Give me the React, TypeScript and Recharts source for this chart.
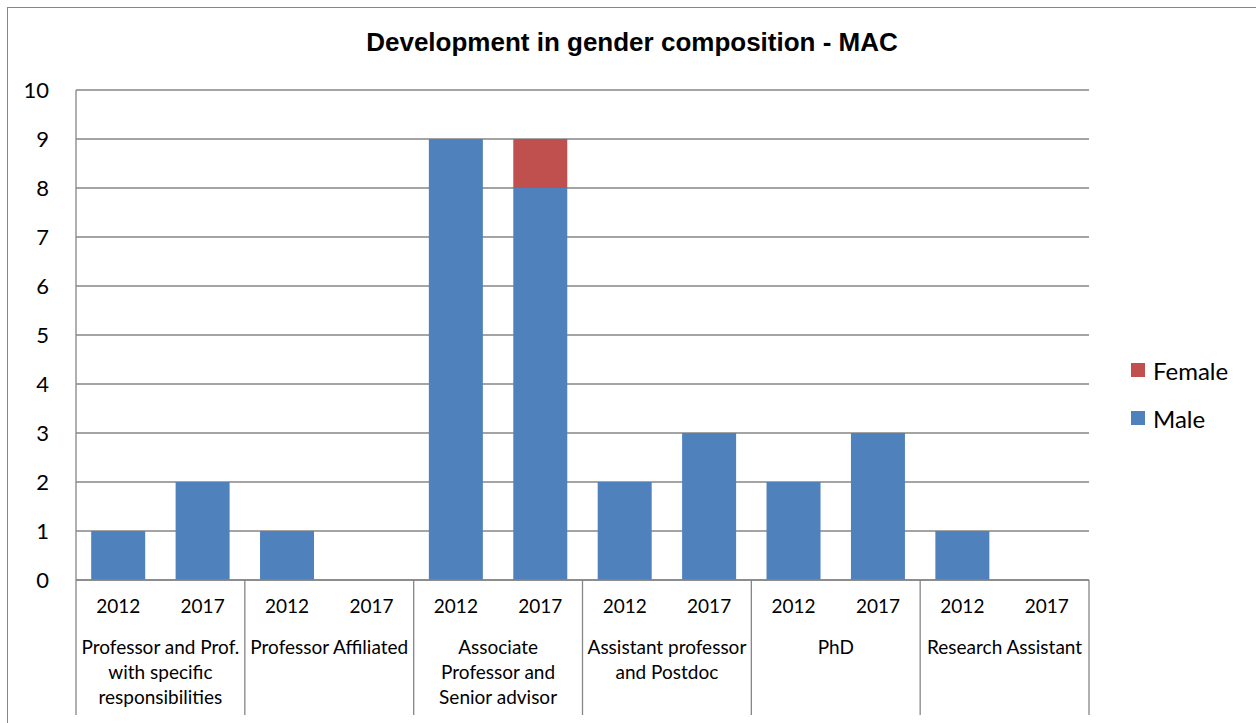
import React from 'react'
import { BarChart, Bar, XAxis, YAxis, CartesianGrid, Legend } from 'recharts'

const years = ['2012', '2017', '2012', '2017', '2012', '2017', '2012', '2017', '2012', '2017', '2012', '2017']
const groups = [
  ['Professor and Prof.', 'with specific', 'responsibilities'],
  ['Professor Affiliated'],
  ['Associate', 'Professor and', 'Senior advisor'],
  ['Assistant professor', 'and Postdoc'],
  ['PhD'],
  ['Research Assistant'],
]
const male = [1, 2, 1, 0, 9, 8, 2, 3, 2, 3, 1, 0]
const female = [0, 0, 0, 0, 0, 1, 0, 0, 0, 0, 0, 0]
const yTicks = [0, 1, 2, 3, 4, 5, 6, 7, 8, 9, 10]

const data = years.map((year, i) => ({ id: `c${i}`, year, male: male[i], female: female[i] }))

const FONT = 'Lato, "Noto Sans", sans-serif'
const GRID = '#868686'
const BLUE = '#4F81BD'
const RED = '#C0504D'

const legendItems = [
  { label: 'Female', color: RED },
  { label: 'Male', color: BLUE },
]

const CategoryTick = (props: any) => {
  const { x, y, payload, index } = props
  const half = payload?.offset || 42.2
  const group = groups[Math.floor(index / 2)]
  const isFirst = index % 2 === 0
  return (
    <g>
      <text x={x} y={y + 33} textAnchor="middle" fontSize={19} fontFamily={FONT} fill="#000">
        {years[index]}
      </text>
      {isFirst && (
        <>
          <line x1={x - half} y1={y} x2={x - half} y2={y + 135} stroke={GRID} strokeWidth={1.3} />
          {group.map((line, j) => (
            <text key={j} x={x + half} y={y + 74 + j * 25} textAnchor="middle" fontSize={19} fontFamily={FONT} fill="#000">
              {line}
            </text>
          ))}
        </>
      )}
      {index === years.length - 1 && (
        <line x1={x + half} y1={y} x2={x + half} y2={y + 135} stroke={GRID} strokeWidth={1.3} />
      )}
    </g>
  )
}

const ValueTick = (props: any) => {
  const { x, y, payload } = props
  return (
    <text x={x - 27} y={y} dy={7.5} textAnchor="end" fontSize={22} fontFamily={FONT} fill="#000">
      {payload.value}
    </text>
  )
}

const LegendContent = () => (
  <div style={{ fontFamily: FONT, fontSize: 24, color: '#000' }}>
    {legendItems.map((item) => (
      <div key={item.label} style={{ display: 'flex', alignItems: 'center', height: 48 }}>
        <span style={{ width: 14, height: 14, background: item.color, marginRight: 8 }} />
        {item.label}
      </div>
    ))}
  </div>
)

export default function App() {
  return (
    <div style={{ position: 'absolute', left: 0, top: 0, width: 1256, height: 723, overflow: 'hidden', background: '#fff' }}>
      <div style={{ position: 'absolute', left: 7, top: 7, width: 1300, height: 800, border: `1.5px solid ${GRID}` }} />
      <div
        style={{
          position: 'absolute', left: 0, top: 27, width: 1264, textAlign: 'center', lineHeight: '30px',
          fontFamily: '"Liberation Sans", Arial, sans-serif', fontWeight: 'bold', fontSize: 26, color: '#000',
        }}
      >
        Development in gender composition - MAC
      </div>
      <div style={{ position: 'absolute', left: 0, top: 0 }}>
        <BarChart
          width={1256}
          height={723}
          data={data}
          margin={{ top: 90, right: 167, bottom: 8, left: 16 }}
          barCategoryGap="18%"
        >
          <CartesianGrid vertical={false} stroke={GRID} strokeWidth={1.3} />
          <XAxis
            dataKey="id"
            interval={0}
            height={135}
            tickLine={false}
            tickSize={0}
            tickMargin={0}
            axisLine={{ stroke: GRID, strokeWidth: 1.3 }}
            tick={<CategoryTick />}
          />
          <YAxis
            width={60}
            domain={[0, 10]}
            ticks={yTicks}
            interval={0}
            tickLine={false}
            tickSize={0}
            tickMargin={0}
            axisLine={{ stroke: GRID, strokeWidth: 1.3 }}
            tick={<ValueTick />}
          />
          <Legend
            layout="vertical"
            align="center"
            verticalAlign="middle"
            content={<LegendContent />}
            wrapperStyle={{ left: 1131, top: 346, width: 125, height: 96 }}
          />
          <Bar dataKey="male" name="Male" stackId="a" fill={BLUE} isAnimationActive={false} />
          <Bar dataKey="female" name="Female" stackId="a" fill={RED} isAnimationActive={false} />
        </BarChart>
      </div>
    </div>
  )
}
